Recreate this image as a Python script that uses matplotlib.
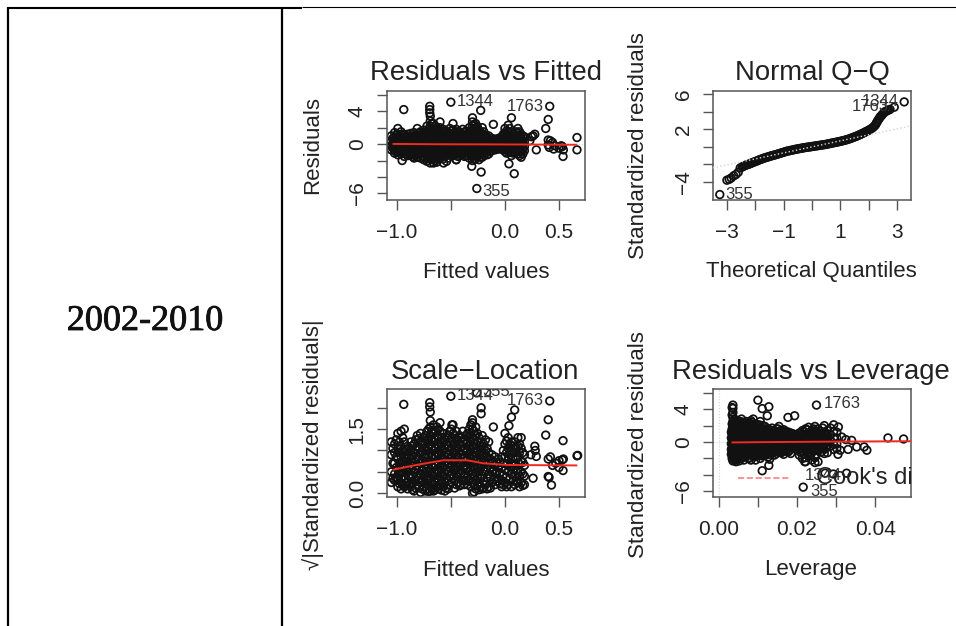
import matplotlib
matplotlib.use('Agg')
import matplotlib.pyplot as plt
import matplotlib.patheffects as pe
import numpy as np
from matplotlib.lines import Line2D

W, H = 956, 626
plt.rcParams['font.family'] = ['Liberation Sans', 'DejaVu Sans']

# --- Residuals vs Fitted
fit_cols = [-1.05, -1.02, -0.99, -0.96, -0.93, -0.90, -0.87, -0.84, -0.81, -0.78, -0.75, -0.72, -0.69, -0.66,
            -0.63, -0.60, -0.57, -0.54, -0.51, -0.48, -0.45, -0.42, -0.39, -0.36, -0.33, -0.30, -0.27, -0.24,
            -0.21, -0.18, -0.15, -0.12, -0.09, -0.06, -0.03, 0.00, 0.03, 0.06, 0.09, 0.12, 0.15, 0.18]
fit_res = [
    [1.0, 0.3, -0.2, -0.7], [1.4, 0.8, 0.2, -0.3, -0.8, -1.1], [1.9, 1.2, 0.6, 0.1, -0.5, -1.0, -1.3],
    [1.5, 0.9, 0.4, -0.2, -0.7, -1.2], [1.1, 0.6, 0.0, -0.5, -1.0, -1.5], [1.2, 0.7, 0.2, -0.4, -0.9, -1.4],
    [1.3, 0.8, 0.3, -0.3, -0.8, -1.3], [1.4, 0.9, 0.3, -0.2, -0.7, -1.2, -1.7], [1.9, 1.1, 0.6, 0.0, -0.5, -1.1, -1.6],
    [1.5, 1.0, 0.4, -0.1, -0.6, -1.1, -1.7], [1.7, 1.2, 0.7, 0.2, -0.4, -0.9, -1.5, -1.9],
    [2.2, 1.5, 0.9, 0.3, -0.2, -0.8, -1.4, -2.1], [3.4, 2.8, 2.2, 1.6, 1.0, 0.4, -0.3, -0.9, -1.6, -2.3],
    [2.5, 1.9, 1.3, 0.7, 0.1, -0.5, -1.1, -1.7, -2.3], [2.0, 1.4, 0.8, 0.2, -0.4, -1.0, -1.5, -2.2],
    [2.7, 2.0, 1.3, 0.7, 0.1, -0.5, -1.1, -1.7], [1.8, 1.2, 0.6, 0.0, -0.6, -1.2, -1.8], [1.6, 1.0, 0.4, -0.2, -0.8, -1.4, -2.1],
    [1.9, 1.3, 0.7, 0.1, -0.5, -1.0], [2.5, 1.7, 1.0, 0.4, -0.2, -0.8, -1.4], [1.8, 1.2, 0.6, 0.0, -0.6, -1.2, -1.9],
    [1.5, 1.0, 0.3, -0.3, -0.9, -1.4], [1.8, 1.1, 0.5, -0.1, -0.7, -1.2], [1.6, 1.0, 0.4, -0.2, -0.8, -1.4],
    [2.0, 1.3, 0.7, 0.1, -0.5, -1.1, -1.7], [3.2, 2.7, 2.2, 1.6, 1.0, 0.4, -0.2, -0.9, -1.5, -2.0],
    [2.5, 1.8, 1.2, 0.6, 0.0, -0.6, -1.2, -1.8], [1.7, 1.1, 0.5, -0.1, -0.7, -1.3, -1.9],
    [2.0, 1.2, 0.6, 0.0, -0.6, -1.1, -1.6], [1.1, 0.6, 0.0, -0.6, -1.1], [1.0, 0.4, -0.1, -0.6, -1.2],
    [0.7, 0.2, -0.3, -0.8], [0.6, 0.1, -0.4, -0.7], [0.7, 0.2, -0.3, -0.6], [0.9, 0.3, -0.2, -0.6],
    [1.9, 1.3, 0.7, 0.1, -0.4, -0.9], [2.3, 1.5, 0.8, 0.2, -0.3, -0.8], [1.5, 0.9, 0.3, -0.3, -1.4], [1.2, 0.6, 0.1, -0.5, -1.0],
    [1.9, 1.3, 0.6, 0.0, -0.6, -1.2], [1.2, 0.7, 0.2, -0.4, -0.9, -1.6], [0.9, 0.3, -0.3, -0.8]]
# second pass between the columns above, the blob is solid black in the picture
fit_cols2 = [-1.035, -1.005, -0.975, -0.945, -0.915, -0.885, -0.855, -0.825, -0.795, -0.765, -0.735, -0.705, -0.675, -0.645,
             -0.615, -0.585, -0.555, -0.525, -0.495, -0.465, -0.435, -0.405, -0.375, -0.345, -0.315, -0.285, -0.255, -0.225,
             -0.195, -0.165, -0.135, -0.105, -0.075, -0.045, -0.015, 0.015, 0.045, 0.075, 0.105, 0.135, 0.165]
fit_res2 = [
    [0.7, 0.0, -0.5], [1.1, 0.5, -0.1, -0.6], [0.9, 0.3, -0.2, -0.8], [1.2, 0.6, 0.1, -0.5, -0.9], [0.8, 0.3, -0.3, -0.8, -1.2],
    [0.9, 0.4, -0.1, -0.7, -1.1], [1.0, 0.5, 0.0, -0.6, -1.0, -1.5], [1.1, 0.6, 0.0, -0.5, -1.0, -1.4], [1.3, 0.8, 0.3, -0.3, -0.8, -1.3],
    [1.2, 0.7, 0.1, -0.4, -0.9, -1.4], [1.4, 0.9, 0.4, -0.1, -0.6, -1.2, -1.7], [1.8, 1.2, 0.6, 0.0, -0.5, -1.1, -1.8],
    [2.5, 1.9, 1.3, 0.7, 0.1, -0.6, -1.2, -1.9], [2.2, 1.6, 1.0, 0.4, -0.2, -0.8, -1.4, -2.0], [1.7, 1.1, 0.5, -0.1, -0.7, -1.3, -1.9],
    [1.6, 1.0, 0.4, -0.2, -0.8, -1.4], [1.5, 0.9, 0.3, -0.3, -0.9, -1.5], [1.3, 0.7, 0.1, -0.5, -1.1, -1.7], [1.6, 1.0, 0.4, -0.2, -0.8, -1.3],
    [1.4, 0.7, 0.1, -0.5, -1.1], [1.5, 0.9, 0.3, -0.3, -0.9, -1.5], [1.2, 0.6, 0.0, -0.6, -1.1], [1.4, 0.8, 0.2, -0.4, -1.0, -1.5],
    [1.3, 0.7, 0.1, -0.5, -1.1], [1.6, 1.0, 0.4, -0.2, -0.8, -1.4], [2.4, 1.9, 1.3, 0.7, 0.1, -0.5, -1.2, -1.8],
    [2.1, 1.5, 0.9, 0.3, -0.3, -0.9, -1.5], [1.4, 0.8, 0.2, -0.4, -1.0, -1.6], [1.5, 0.9, 0.3, -0.3, -0.9, -1.4],
    [0.8, 0.3, -0.3, -0.8, -1.3], [0.7, 0.1, -0.4, -0.9], [0.5, -0.1, -0.5], [0.4, -0.2, -0.6], [0.5, 0.0, -0.5], [1.2, 0.6, 0.0, -0.4, -0.7],
    [1.6, 1.0, 0.4, -0.2, -0.6, -1.1], [1.9, 1.1, 0.5, -0.1, -0.6, -1.0], [1.2, 0.6, 0.0, -0.6, -1.1], [1.5, 0.9, 0.3, -0.3, -0.8],
    [1.5, 0.9, 0.3, -0.3, -0.9, -1.4], [0.9, 0.4, -0.1, -0.6, -1.2]]
fit_out_x = [-0.935, -0.50, -0.224, 0.414, 0.06, 0.40, 0.377, -0.107, -0.26, -0.22, -0.307, 0.086, 0.037, -0.95, -0.567,
             -0.45, 0.29, 0.666, 0.666, 0.537, -0.695, -0.695, -0.695, 0.276, 0.245, 0.26, 0.23, 0.40, 0.42, 0.44, 0.41, 0.46,
             0.45, 0.40, 0.53, 0.54, 0.50, 0.52]
fit_out_y = [4.2, 5.1, 4.1, 4.6, 3.2, 3.0, 1.9, 2.4, -5.4, -3.4, -2.7, -3.6, -2.4, -2.0, -2.3,
             -1.9, -0.7, 0.8, -0.7, -1.5, 4.6, 4.2, 3.8, 1.2, 0.9, 1.0, 0.4, 0.5, 0.4, 0.2, -0.4, -0.2,
             -0.6, -0.1, -0.3, -0.7, -0.5, -0.2]
fit_line_x = [-1.03, -0.6, -0.2, 0.2, 0.66]
fit_line_y = [0.02, -0.02, -0.03, -0.05, -0.08]

# --- Normal Q-Q
qq_x = [-3.25, -3.0, -2.92, -2.85, -2.76, -2.68, -2.6, -2.53, -2.46, -2.38, -2.3, -2.2, -2.1, -2.0, -1.9, -1.8, -1.7, -1.6, -1.5, -1.4,
        -1.3, -1.2, -1.1, -1.0, -0.9, -0.8, -0.7, -0.6, -0.5, -0.4, -0.3, -0.2, -0.1, 0.0, 0.1, 0.2, 0.3, 0.4, 0.5, 0.6,
        0.7, 0.8, 0.9, 1.0, 1.1, 1.2, 1.3, 1.4, 1.5, 1.6, 1.7, 1.8, 1.9, 2.0, 2.1, 2.2, 2.27, 2.33, 2.4, 2.47, 2.55, 2.65, 2.75, 2.9, 3.25]
qq_y = [-5.43, -3.8, -3.7, -3.55, -3.3, -3.15, -2.9, -2.4, -2.3, -2.15, -2.05, -1.95, -1.8, -1.68, -1.55, -1.42, -1.3, -1.2, -1.1, -1.0,
        -0.92, -0.82, -0.72, -0.62, -0.52, -0.45, -0.38, -0.3, -0.24, -0.18, -0.12, -0.07, -0.02, 0.03, 0.08, 0.13, 0.18, 0.23, 0.28, 0.35,
        0.42, 0.48, 0.55, 0.62, 0.7, 0.78, 0.88, 1.0, 1.12, 1.25, 1.4, 1.55, 1.72, 1.88, 2.08, 2.35, 2.7, 3.05, 3.4, 3.65, 3.95, 4.1, 4.25, 4.5, 5.1]
qq_x2 = [-2.42, -2.34, -2.25, -2.15, -2.05, -1.95, -1.85, -1.75, -1.65, -1.55, -1.45, -1.35, -1.25, -1.15, -1.05, -0.95, -0.85,
         -0.75, -0.65, -0.55, -0.45, -0.35, -0.25, -0.15, -0.05, 0.05, 0.15, 0.25, 0.35, 0.45, 0.55, 0.65, 0.75, 0.85, 0.95,
         1.05, 1.15, 1.25, 1.35, 1.45, 1.55, 1.65, 1.75, 1.85, 1.95, 2.05, 2.15, 2.24, 2.3, 2.37, 2.44, 2.52, 2.6, 2.7]
qq_y2 = [-2.22, -2.1, -2.0, -1.88, -1.74, -1.62, -1.48, -1.36, -1.25, -1.15, -1.05, -0.96, -0.87, -0.77, -0.67, -0.57, -0.48,
         -0.41, -0.34, -0.27, -0.21, -0.15, -0.09, -0.04, 0.0, 0.05, 0.1, 0.15, 0.2, 0.25, 0.31, 0.38, 0.45, 0.51, 0.58,
         0.66, 0.74, 0.83, 0.94, 1.06, 1.18, 1.32, 1.47, 1.63, 1.8, 1.98, 2.2, 2.5, 2.85, 3.2, 3.5, 3.8, 4.02, 4.18]
qq_line_x = [-3.49, 3.49]
qq_line_y = [-2.4, 2.38]

# --- Scale-Location
sl_res = [
    [1.2, 0.9, 0.5, 0.25], [1.15, 0.95, 0.7, 0.45, 0.3], [1.4, 1.05, 0.8, 0.55, 0.3, 0.15], [1.45, 1.1, 0.85, 0.6, 0.35, 0.1],
    [1.5, 1.2, 0.9, 0.65, 0.4, 0.15], [1.1, 0.9, 0.7, 0.5, 0.25, 0.1], [1.2, 1.0, 0.8, 0.55, 0.35, 0.15], [1.15, 0.95, 0.75, 0.5, 0.3, 0.05],
    [1.35, 1.1, 0.85, 0.65, 0.4, 0.2], [1.4, 1.2, 0.95, 0.7, 0.45, 0.25, 0.02], [1.3, 1.05, 0.85, 0.6, 0.4, 0.15],
    [1.45, 1.25, 1.0, 0.75, 0.5, 0.3, 0.1], [1.9, 1.7, 1.55, 1.35, 1.15, 0.95, 0.75, 0.5, 0.3, 0.05], [1.6, 1.4, 1.2, 1.0, 0.8, 0.6, 0.4, 0.2, 0.05],
    [1.55, 1.35, 1.15, 0.95, 0.75, 0.55, 0.35, 0.15], [1.65, 1.45, 1.2, 1.0, 0.8, 0.6, 0.4, 0.2], [1.4, 1.2, 1.0, 0.8, 0.6, 0.4, 0.15],
    [1.3, 1.15, 0.95, 0.75, 0.55, 0.35, 0.12], [1.45, 1.2, 1.0, 0.8, 0.6, 0.4, 0.2], [1.6, 1.4, 1.15, 0.95, 0.75, 0.55, 0.35],
    [1.45, 1.25, 1.05, 0.85, 0.65, 0.45, 0.2], [1.35, 1.15, 0.95, 0.7, 0.5, 0.17], [1.45, 1.2, 1.0, 0.8, 0.6, 0.3], [1.35, 1.15, 0.95, 0.75, 0.55, 0.3],
    [1.5, 1.3, 1.1, 0.9, 0.7, 0.5, 0.3], [1.72, 1.65, 1.5, 1.3, 1.1, 0.9, 0.7, 0.45, 0.25, 0.0], [1.55, 1.35, 1.15, 0.95, 0.75, 0.5, 0.3, 0.1],
    [1.3, 1.1, 0.9, 0.7, 0.5, 0.25, 0.08], [1.35, 1.1, 0.9, 0.65, 0.4, 0.1], [1.25, 1.0, 0.75, 0.5, 0.2], [1.2, 0.95, 0.7, 0.45, 0.15],
    [0.9, 0.7, 0.5, 0.25], [0.85, 0.65, 0.45, 0.2], [0.8, 0.6, 0.35], [0.85, 0.6, 0.3, 0.15],
    [1.4, 1.15, 0.85, 0.55, 0.25], [1.3, 1.05, 0.8, 0.5, 0.2], [1.2, 1.0, 0.7, 0.45, 0.15], [1.2, 0.95, 0.65, 0.4, 0.2],
    [1.3, 1.1, 0.85, 0.55, 0.25], [1.3, 1.05, 0.75, 0.5, 0.25], [0.9, 0.65, 0.4, 0.2]]
sl_res2 = [
    [1.05, 0.7, 0.35], [1.25, 0.85, 0.6, 0.35], [1.2, 0.95, 0.7, 0.45, 0.22], [1.3, 1.0, 0.75, 0.5, 0.2],
    [1.0, 0.8, 0.6, 0.35, 0.18], [1.05, 0.85, 0.6, 0.42, 0.2], [1.1, 0.88, 0.65, 0.42, 0.22, 0.08], [1.25, 1.02, 0.78, 0.55, 0.32, 0.12],
    [1.28, 1.05, 0.8, 0.58, 0.35, 0.13], [1.18, 0.98, 0.75, 0.52, 0.3, 0.1], [1.35, 1.15, 0.92, 0.68, 0.42, 0.22, 0.05],
    [1.5, 1.25, 1.05, 0.85, 0.62, 0.4, 0.18, 0.04], [1.45, 1.25, 1.05, 0.85, 0.65, 0.45, 0.25, 0.1], [1.45, 1.25, 1.05, 0.85, 0.65, 0.45, 0.25, 0.08],
    [1.5, 1.3, 1.1, 0.9, 0.7, 0.5, 0.3, 0.1], [1.3, 1.1, 0.9, 0.7, 0.5, 0.3, 0.07], [1.25, 1.05, 0.85, 0.65, 0.45, 0.25, 0.05],
    [1.35, 1.1, 0.9, 0.7, 0.5, 0.3, 0.1], [1.5, 1.28, 1.05, 0.85, 0.65, 0.45, 0.25], [1.35, 1.15, 0.95, 0.75, 0.55, 0.3, 0.12],
    [1.25, 1.05, 0.85, 0.6, 0.38, 0.25], [1.3, 1.1, 0.9, 0.7, 0.45, 0.2], [1.25, 1.05, 0.85, 0.65, 0.42, 0.2], [1.4, 1.2, 1.0, 0.8, 0.6, 0.4, 0.2],
    [1.6, 1.4, 1.2, 1.0, 0.8, 0.6, 0.35, 0.15], [1.45, 1.25, 1.05, 0.85, 0.62, 0.4, 0.2, 0.03], [1.4, 1.2, 1.0, 0.8, 0.6, 0.4, 0.18],
    [1.2, 1.0, 0.8, 0.58, 0.35, 0.15], [1.15, 0.95, 0.72, 0.52, 0.28, 0.12], [1.05, 0.85, 0.6, 0.35, 0.1], [0.8, 0.6, 0.38, 0.12],
    [0.75, 0.55, 0.32], [0.7, 0.5, 0.28], [0.72, 0.48, 0.22], [1.0, 0.7, 0.42, 0.2],
    [1.22, 0.95, 0.68, 0.38, 0.15], [1.15, 0.9, 0.62, 0.35], [1.1, 0.82, 0.55, 0.28], [1.05, 0.8, 0.52, 0.3],
    [1.15, 0.95, 0.68, 0.4, 0.15], [0.95, 0.72, 0.45, 0.18]]
sl_out_x = [-0.935, -0.5, -0.26, -0.22, -0.22, 0.414, 0.09, 0.06, 0.037, 0.40, 0.377, 0.537, -0.107, -0.695, -0.695,
            -0.49, 0.276, 0.29, 0.26, 0.43, 0.40, 0.408, 0.666, 0.672, 0.537, 0.53, 0.50, 0.47, 0.44, 0.42, 0.24, 0.28, 0.40, 0.50, 0.54]
sl_out_y = [2.08, 2.27, 2.35, 2.0, 1.86, 2.16, 1.95, 1.78, 1.58, 1.72, 1.36, 1.23, 1.55, 2.12, 2.02,
            1.6, 1.1, 0.86, 0.35, 0.19, 0.39, 0.37, 0.875, 0.885, 0.53, 0.78, 0.76, 0.7, 0.65, 0.85, 0.9, 1.0, 0.8, 0.6, 0.8]
sl_line_x = [-1.03, -0.82, -0.57, -0.35, -0.2, 0.02, 0.66]
sl_line_y = [0.55, 0.66, 0.77, 0.77, 0.70, 0.66, 0.65]

# --- Residuals vs Leverage
lev_cols = [0.0032, 0.0036, 0.0040, 0.0044, 0.0048, 0.0052, 0.0058, 0.0064, 0.0070, 0.0076, 0.0082, 0.0088, 0.0094, 0.0100, 0.0106,
            0.0112, 0.0118, 0.0124, 0.0130, 0.0136, 0.0142, 0.0148, 0.0154, 0.0160, 0.0166, 0.0172, 0.0178, 0.0184, 0.0190,
            0.0198, 0.0206, 0.0214, 0.0222, 0.0230, 0.0238, 0.0246, 0.0254, 0.0262, 0.0270, 0.0278, 0.0286, 0.0294, 0.0302]
lev_res = [
    [1.2, 0.5, -0.2, -0.9, -1.5], [4.5, 4.1, 3.6, 3.0, 2.5, 1.9, 1.3, 0.7, 0.1, -0.5, -1.1, -1.7, -2.3], [2.8, 2.2, 1.6, 1.0, 0.4, -0.2, -0.8, -1.4, -2.2],
    [2.5, 1.9, 1.3, 0.7, 0.1, -0.5, -1.1, -1.7, -2.4], [2.6, 2.0, 1.4, 0.8, 0.2, -0.4, -1.0, -1.6, -2.1], [2.1, 1.5, 0.9, 0.3, -0.3, -0.9, -1.5, -2.3],
    [2.8, 2.2, 1.6, 1.0, 0.4, -0.2, -0.8, -1.4, -2.0], [2.4, 1.8, 1.2, 0.6, 0.0, -0.6, -1.2, -1.8, -2.2], [2.5, 1.9, 1.3, 0.7, 0.1, -0.5, -1.1, -1.7],
    [2.3, 1.7, 1.1, 0.5, -0.1, -0.7, -1.3, -2.0], [2.6, 2.0, 1.4, 0.8, 0.2, -0.4, -1.0, -1.6, -2.2], [2.8, 2.1, 1.4, 0.8, 0.2, -0.4, -1.0, -1.7],
    [2.2, 1.6, 1.0, 0.4, -0.2, -0.8, -1.4, -2.2], [2.0, 1.4, 0.8, 0.2, -0.4, -1.0, -1.6], [2.5, 1.7, 1.1, 0.5, -0.1, -0.7, -1.3, -2.0],
    [2.0, 1.4, 0.8, 0.2, -0.4, -1.0, -1.7], [1.9, 1.3, 0.7, 0.1, -0.5, -1.1, -1.6], [3.2, 1.6, 1.0, 0.4, -0.2, -0.8, -1.4],
    [1.5, 0.9, 0.3, -0.3, -0.9, -1.5, -2.1], [1.7, 1.1, 0.5, -0.1, -0.7, -1.3], [1.4, 0.8, 0.2, -0.4, -1.0, -1.6],
    [1.6, 1.0, 0.4, -0.2, -0.8, -1.4], [1.9, 1.2, 0.6, 0.0, -0.6, -1.2], [1.4, 0.9, 0.3, -0.3, -0.9, -1.3], [1.5, 0.8, 0.2, -0.4, -1.0, -1.5],
    [1.3, 0.7, 0.1, -0.5, -1.1], [1.2, 0.6, 0.0, -0.6, -1.2], [1.1, 0.5, -0.1, -0.7, -1.4], [1.0, 0.4, -0.2, -0.7],
    [0.9, 0.3, -0.3, -0.8], [1.1, 0.5, -0.1, -0.7, -1.6], [1.4, 0.8, 0.2, -0.4, -1.1, -2.0], [1.6, 0.9, 0.3, -0.3, -0.9, -1.9, -2.4],
    [1.8, 1.1, 0.4, -0.2, -0.9, -1.6], [1.4, 0.7, 0.1, -0.5, -1.3, -2.2], [1.9, 1.2, 0.5, -0.1, -0.8, -1.9], [1.6, 0.9, 0.3, -0.3, -1.0, -2.4],
    [1.3, 0.7, 0.1, -0.6, -1.2], [2.0, 1.1, 0.4, -0.2, -0.9, -1.4], [1.4, 0.8, 0.2, -0.4, -1.3], [1.7, 0.9, 0.2, -0.5], [2.1, 1.3, 0.5, -0.3, -0.9], [1.2, 0.5, -0.2, -0.8]]
lev_cols2 = [0.0034, 0.0038, 0.0042, 0.0046, 0.0050, 0.0055, 0.0061, 0.0067, 0.0073, 0.0079, 0.0085, 0.0091, 0.0097, 0.0103,
             0.0109, 0.0115, 0.0121, 0.0127, 0.0133, 0.0139, 0.0145, 0.0151, 0.0157, 0.0163, 0.0169, 0.0175, 0.0181, 0.0187,
             0.0194, 0.0202, 0.0210, 0.0218, 0.0226, 0.0234, 0.0242, 0.0250, 0.0258, 0.0266, 0.0274]
lev_res2 = [
    [4.2, 3.3, 2.2, 1.6, 1.0, 0.4, -0.2, -0.8, -1.4, -2.0], [2.5, 1.9, 1.3, 0.7, 0.1, -0.5, -1.1, -1.7], [2.2, 1.6, 1.0, 0.4, -0.2, -0.8, -1.4, -2.0],
    [2.3, 1.7, 1.1, 0.5, -0.1, -0.7, -1.3, -1.9], [1.8, 1.2, 0.6, 0.0, -0.6, -1.2, -1.8], [2.5, 1.9, 1.3, 0.7, 0.1, -0.5, -1.1, -1.7],
    [2.1, 1.5, 0.9, 0.3, -0.3, -0.9, -1.5], [2.2, 1.6, 1.0, 0.4, -0.2, -0.8, -1.4], [2.0, 1.4, 0.8, 0.2, -0.4, -1.0, -1.6],
    [2.3, 1.7, 1.1, 0.5, -0.1, -0.7, -1.3, -1.9], [2.4, 1.7, 1.1, 0.5, -0.1, -0.7, -1.3], [1.9, 1.3, 0.7, 0.1, -0.5, -1.1, -1.8],
    [1.7, 1.1, 0.5, -0.1, -0.7, -1.3], [2.1, 1.4, 0.8, 0.2, -0.4, -1.0, -1.6], [1.7, 1.1, 0.5, -0.1, -0.7, -1.3], [1.6, 1.0, 0.4, -0.2, -0.8, -1.3],
    [1.3, 0.7, 0.1, -0.5, -1.1], [1.2, 0.6, 0.0, -0.6, -1.2, -1.8], [1.4, 0.8, 0.2, -0.4, -1.0], [1.1, 0.5, -0.1, -0.7, -1.3],
    [1.3, 0.7, 0.1, -0.5, -1.1], [1.6, 0.9, 0.3, -0.3, -0.9], [1.1, 0.6, 0.0, -0.6, -1.1], [1.2, 0.5, -0.1, -0.7, -1.2],
    [1.0, 0.4, -0.2, -0.8], [0.9, 0.3, -0.3, -0.9], [0.8, 0.2, -0.4, -1.0], [0.7, 0.1, -0.4], [0.6, 0.0, -0.5],
    [0.8, 0.2, -0.4, -1.0], [1.1, 0.5, -0.1, -0.8, -1.3], [1.3, 0.6, 0.0, -0.6, -1.5], [1.5, 0.7, 0.1, -0.6, -1.3], [1.1, 0.4, -0.2, -0.8, -1.7],
    [1.6, 0.9, 0.2, -0.4, -1.1], [1.3, 0.6, 0.0, -0.6, -1.5], [1.0, 0.4, -0.3, -0.9], [1.7, 0.8, 0.1, -0.5], [1.1, 0.5, -0.1, -0.7]]
lev_out_x = [0.025, 0.010, 0.0111, 0.0128, 0.0177, 0.0194, 0.0306, 0.0433, 0.0473, 0.0379, 0.0353, 0.0216, 0.0111, 0.0128,
             0.0327, 0.0272, 0.0293, 0.0246, 0.022, 0.0315, 0.0325, 0.0340, 0.0372, 0.0331, 0.0311, 0.0305]
lev_out_y = [4.5, 5.1, 4.07, 4.3, 3.0, 3.2, 1.83, 0.5, 0.37, -1.0, -0.6, -5.5, -3.5, -2.85,
             -3.8, -3.8, -3.9, -2.5, -2.4, 0.6, 0.3, 0.2, -0.6, -0.9, -1.0, -1.5]
lev_line_x = [0.0035, 0.015, 0.03, 0.0492]
lev_line_y = [-0.05, 0.0, 0.05, 0.1]


def make_axes(box, xlim, ylim):
    x0, y0, x1, y1 = box
    ax = fig.add_axes([x0 / W, 1 - y1 / H, (x1 - x0) / W, (y1 - y0) / H])
    ax.set_xlim(xlim)
    ax.set_ylim(ylim)
    for s in ax.spines.values():
        s.set_linewidth(1.1)
        s.set_color('#555555')
    ax.tick_params(length=7, width=1.0, color='#555555', labelsize=15, labelcolor='#222222')
    ax.tick_params(axis='x', pad=9.5)
    ax.tick_params(axis='y', pad=7.5)
    return ax


def set_ticks(ax, xticks, xlabels, yticks, ylabels):
    ax.set_xticks(xticks)
    ax.set_xticklabels(xlabels)
    ax.set_yticks(yticks)
    ax.set_yticklabels(ylabels, rotation=90, va='center')


def circles(ax, x, y):
    ax.scatter(x, y, s=30, facecolors='none', edgecolors='#111111', linewidths=1.25, zorder=2, clip_on=True)


def column_points(cols, vals):
    xs = np.repeat(cols, [len(v) for v in vals])
    ys = np.concatenate(vals)
    return xs, ys


def names(ax, items):
    for x, y, s, ha in items:
        ax.text(x, y, s, fontsize=12, ha=ha, va='center', color='#333333', clip_on=True, zorder=4)


def px_text(x, y, s, **kw):
    fig.text(x / W, 1 - y / H, s, ha='center', va='center', color='#222222', **kw)


fig = plt.figure(figsize=(W / 100, H / 100), dpi=100)

# table rules
for x0, y0, x1, y1, lw in [(7, 7.5, 302, 7.5, 1.5), (302, 7, 956, 7, 0.8), (8, 7, 8, 626, 1.6), (282, 7, 282, 626, 1.6)]:
    fig.add_artist(Line2D([x0 / W, x1 / W], [1 - y0 / H, 1 - y1 / H], color='black', lw=lw, solid_capstyle='butt'))
label = fig.text(145 / W, 1 - 321.5 / H, '2002-2010', family='Liberation Serif', fontsize=26, ha='center', va='center', color='#111111')
label.set_path_effects([pe.withStroke(linewidth=0.6, foreground='#111111')])

# Residuals vs Fitted
ax1 = make_axes((387, 91, 585, 200), (-1.09, 0.74), (-6.8, 6.46))
for xs, ys in [column_points(fit_cols, fit_res), column_points(fit_cols2, fit_res2)]:
    circles(ax1, xs, ys)
circles(ax1, fit_out_x, fit_out_y)
ax1.axhline(0, color='lightgray', ls=':', lw=0.8, zorder=1)
ax1.plot(fit_line_x, fit_line_y, color='#f02a20', lw=1.4, zorder=3)
set_ticks(ax1, [-1.0, -0.5, 0.0, 0.5], ['\u22121.0', '', '0.0', '0.5'], [-6, -4, -2, 0, 2, 4, 6], ['\u22126', '', '', '0', '', '4', ''])
names(ax1, [(-0.445, 5.2, '1344', 'left'), (0.36, 4.6, '1763', 'right'), (-0.205, -5.77, '355', 'left')])
px_text(485.5, 73, 'Residuals vs Fitted', fontsize=19.8)
px_text(486, 272, 'Fitted values', fontsize=16)
px_text(313, 145, 'Residuals', fontsize=16, rotation=90)

# Normal Q-Q
ax2 = make_axes((713, 91, 911, 200), (-3.49, 3.49), (-6.05, 6.34))
circles(ax2, qq_x, qq_y)
circles(ax2, qq_x2, qq_y2)
ax2.plot(qq_line_x, qq_line_y, color='lightgray', ls=':', lw=1.0, zorder=3)
set_ticks(ax2, [-3, -2, -1, 0, 1, 2, 3], ['\u22123', '', '\u22121', '', '1', '', '3'], [-4, -2, 0, 2, 4, 6], ['\u22124', '', '', '2', '', '6'])
names(ax2, [(1.75, 5.2, '1344', 'left'), (1.4, 4.6, '1763', 'left'), (-3.05, -5.4, '355', 'left')])
px_text(812, 73, 'Normal Q\u2212Q', fontsize=19.8)
px_text(811, 272, 'Theoretical Quantiles', fontsize=16)
px_text(639, 146, 'Standardized residuals', fontsize=16, rotation=90)

# Scale-Location
ax3 = make_axes((387, 389, 585, 497), (-1.09, 0.74), (-0.09, 2.44))
for xs, ys in [column_points(fit_cols, sl_res), column_points(fit_cols2, sl_res2)]:
    circles(ax3, xs, ys)
circles(ax3, sl_out_x, sl_out_y)
ax3.plot(sl_line_x, sl_line_y, color='#f02a20', lw=1.4, zorder=3)
set_ticks(ax3, [-1.0, -0.5, 0.0, 0.5], ['\u22121.0', '', '0.0', '0.5'], [0, 0.5, 1.0, 1.5, 2.0], ['0.0', '', '', '1.5', ''])
names(ax3, [(-0.445, 2.28, '1344', 'left'), (-0.205, 2.38, '355', 'left'), (0.36, 2.17, '1763', 'right')])
px_text(485, 372, 'Scale\u2212Location', fontsize=19.8)
px_text(486, 570, 'Fitted values', fontsize=16)
px_text(313, 445, '\u221a|Standardized residuals|', fontsize=16, rotation=90)

# Residuals vs Leverage
ax4 = make_axes((713, 389, 911, 497), (-0.0015, 0.0492), (-6.7, 6.46))
for xs, ys in [column_points(lev_cols, lev_res), column_points(lev_cols2, lev_res2)]:
    circles(ax4, xs, ys)
circles(ax4, lev_out_x, lev_out_y)
ax4.axhline(0, color='lightgray', ls=':', lw=0.8, zorder=1)
ax4.axvline(0, color='lightgray', ls=':', lw=0.8, zorder=1)
ax4.plot(lev_line_x, lev_line_y, color='#f02a20', lw=1.4, zorder=3)
ax4.plot([0.0048, 0.0182], [-4.4, -4.4], color='#ff8080', ls='--', lw=1.2, zorder=3)
set_ticks(ax4, [0.0, 0.01, 0.02, 0.03, 0.04], ['0.00', '', '0.02', '', '0.04'], [-6, -4, -2, 0, 2, 4, 6], ['\u22126', '', '', '0', '', '4', ''])
names(ax4, [(0.0268, 4.65, '1763', 'left'), (0.022, -4.1, '1344', 'left'), (0.0233, -6.0, '355', 'left')])
ax4.text(0.025, -4.4, "Cook's distance", fontsize=17, ha='left', va='center', color='#222222', clip_on=True, zorder=4)
px_text(811, 372, 'Residuals vs Leverage', fontsize=19.8)
px_text(811, 570, 'Leverage', fontsize=16)
px_text(639, 445, 'Standardized residuals', fontsize=16, rotation=90)

fig.savefig('out.png', dpi=100)
